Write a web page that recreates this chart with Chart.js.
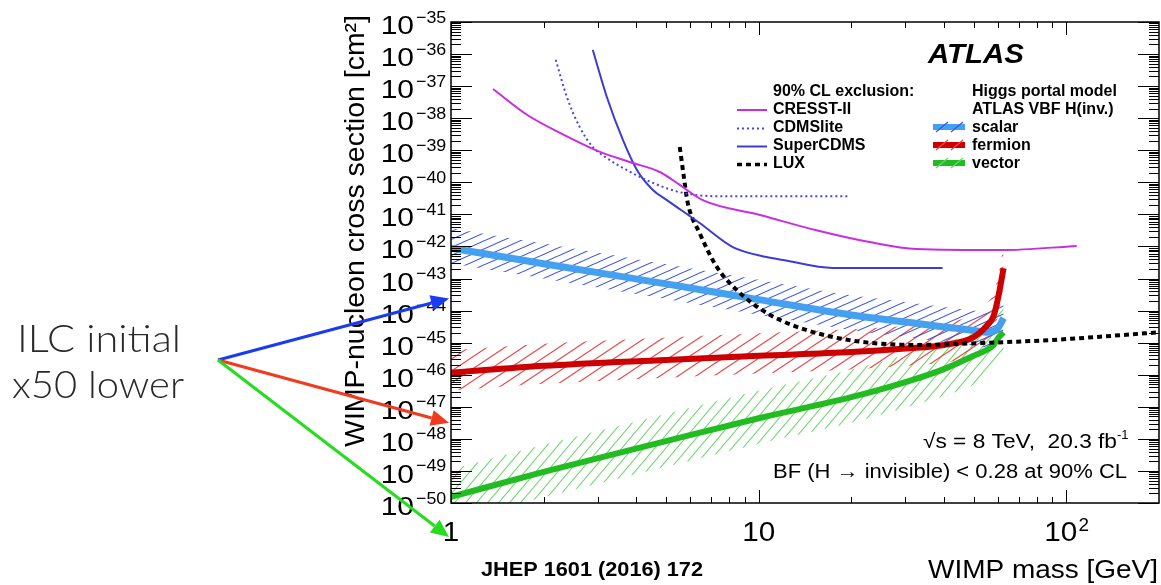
<!DOCTYPE html>
<html>
<head>
<meta charset="utf-8">
<script src="https://cdn.jsdelivr.net/npm/chart.js@4.4.1/dist/chart.umd.min.js"></script>
<style>
  html, body { margin: 0; padding: 0; background: #fff; }
  canvas { display: block; }
</style>
</head>
<body>
<canvas id="wimp" width="1161" height="585"></canvas>
<script>
var cresstMass = [1.37, 1.77, 2.26, 3.05, 3.81, 4.77, 5.54, 6.58, 10.1, 15.4, 22.9, 32.6, 62, 108];
var cresstXsec = [8.1e-38, 1.26e-38, 3.5e-39, 8.9e-40, 4.3e-40, 2.1e-40, 8.3e-41, 2.8e-41, 9.6e-42, 3.2e-42, 1.37e-42, 8.3e-43, 7.7e-43, 1.04e-42];

var cdmsliteMass = [2.19, 2.38, 2.62, 2.89, 3.21, 3.72, 4.53, 5.66, 7.31, 19.7];
var cdmsliteXsec = [6.6e-37, 4.6e-38, 5.3e-39, 1.26e-39, 5.7e-40, 2.44e-40, 9.6e-41, 4.7e-41, 3.7e-41, 3.7e-41];

var supercdmsMass = [2.89, 3.21, 3.62, 4.02, 4.53, 5.03, 6.43, 8.24, 10.6, 12.0, 17.4, 39.6];
var supercdmsXsec = [1.34e-36, 4.6e-38, 2.1e-39, 2.44e-40, 5.8e-41, 2.8e-41, 5.4e-42, 9.6e-43, 4.7e-43, 3.8e-43, 2.14e-43, 2.14e-43];

var luxMass = [5.54, 5.7, 5.88, 6.43, 7.31, 8.48, 10.6, 13.6, 19.7, 32.6, 53.4, 88, 200];
var luxXsec = [1.26e-39, 1.7e-40, 2.3e-41, 2.6e-42, 2.3e-43, 4.4e-44, 8.5e-45, 2.9e-45, 1.2e-45, 8.5e-46, 9.8e-46, 1.2e-45, 2.1e-45];

// Higgs portal limits and their hatched bands
var higgsMass = [1, 2, 5, 10, 20, 30, 40, 50, 55, 58, 60, 62.5];
var scalarLimit = [8.9e-43, 2.9e-43, 6.8e-44, 2.2e-44, 7.3e-45, 4.4e-45, 3.1e-45, 2.4e-45, 2.1e-45, 2.3e-45, 2.9e-45, 5.9e-45];
var scalarHi = [3.7e-42, 1.23e-42, 2.8e-43, 9.1e-44, 3.0e-44, 1.86e-44, 1.29e-44, 1.0e-44, 8.9e-45, 9.5e-45, 1.2e-44, 2.5e-44];
var scalarLo = [3.0e-43, 1.0e-43, 2.3e-44, 7.4e-45, 2.5e-45, 1.5e-45, 1.05e-45, 8.1e-46, 7.2e-46, 7.8e-46, 9.8e-46, 2.0e-45];
var fermionLimit = [1.15e-46, 1.9e-46, 2.9e-46, 3.9e-46, 5.1e-46, 6.6e-46, 8.5e-46, 1.5e-45, 3.3e-45, 6.8e-45, 2.5e-44, 2.1e-43];
var fermionHi = [5.8e-46, 9.3e-46, 1.45e-45, 1.95e-45, 2.6e-45, 3.3e-45, 4.3e-45, 7.6e-45, 1.66e-44, 3.4e-44, 1.23e-43, 1.07e-42];
var fermionLo = [3.2e-47, 5.2e-47, 8.1e-47, 1.1e-46, 1.45e-46, 1.9e-46, 2.4e-46, 4.3e-46, 9.3e-46, 1.9e-45, 6.9e-45, 6.0e-44];
var vectorLimit = [1.55e-50, 9.3e-50, 8.5e-49, 4.4e-48, 2.0e-47, 5.9e-47, 1.5e-46, 3.9e-46, 5.9e-46, 8.5e-46, 1.4e-45, 2.1e-45];
var vectorHi = [1.1e-49, 6.6e-49, 6.0e-48, 3.2e-47, 1.45e-46, 4.2e-46, 1.0e-45, 2.2e-45, 4.2e-45, 6.0e-45, 1.0e-44, 1.5e-44];
var vectorLo = [2.5e-51, 1.5e-50, 1.35e-49, 7.1e-49, 3.2e-48, 9.3e-48, 2.2e-47, 4.9e-47, 9.3e-47, 1.35e-46, 2.2e-46, 3.4e-46];

// where the "x50 lower" arrows point (at m = 1 GeV)
var ilcArrowTargets = [2.4e-44, 3.2e-48, 8.7e-52];

// axis ticks
var xTickValues = [1, 10, 100];
var xTickBase = ['1', '10', '10'];
var xTickExp = ['', '', '2'];
var yDecades = [-35, -36, -37, -38, -39, -40, -41, -42, -43, -44, -45, -46, -47, -48, -49, -50];

var FONT = '"Liberation Sans", Arial, Helvetica, sans-serif';

function pts(xs, ys) {
  return xs.map(function (x, i) { return { x: x, y: ys[i] }; });
}

function hatch(color, w, h) {
  var c = document.createElement('canvas');
  c.width = w; c.height = h;
  var g = c.getContext('2d');
  g.strokeStyle = color;
  g.lineWidth = 1.1;
  g.beginPath();
  for (var k = -1; k <= 1; k++) {
    g.moveTo(k * w - w, 2 * h);
    g.lineTo(k * w + 2 * w, -h);
  }
  g.stroke();
  return g.createPattern(c, 'repeat');
}

function txt(ctx, s, x, y, font, align, sx, color) {
  ctx.save();
  ctx.font = font;
  ctx.fillStyle = color || '#000';
  ctx.textAlign = align || 'left';
  ctx.textBaseline = 'alphabetic';
  ctx.translate(x, y);
  ctx.scale(sx || 1, 1);
  ctx.fillText(s, 0, 0);
  ctx.restore();
}

// text squeezed or stretched to a given width
function fitTxt(ctx, s, x, y, font, width, align, color) {
  ctx.save();
  ctx.font = font;
  var w = ctx.measureText(s).width;
  ctx.restore();
  txt(ctx, s, x, y, font, align, width / w, color);
}

function seg(ctx, x1, y1, x2, y2, color, lw, dash) {
  ctx.save();
  ctx.strokeStyle = color;
  ctx.lineWidth = lw;
  ctx.setLineDash(dash || []);
  ctx.beginPath();
  ctx.moveTo(x1, y1);
  ctx.lineTo(x2, y2);
  ctx.stroke();
  ctx.restore();
}

function arrow(ctx, x1, y1, x2, y2, color) {
  var a = Math.atan2(y2 - y1, x2 - x1);
  var len = 18, hw = 8;
  var bx = x2 - len * Math.cos(a), by = y2 - len * Math.sin(a);
  seg(ctx, x1, y1, bx, by, color, 3);
  ctx.save();
  ctx.fillStyle = color;
  ctx.beginPath();
  ctx.moveTo(x2, y2);
  ctx.lineTo(bx + hw * Math.sin(a), by - hw * Math.cos(a));
  ctx.lineTo(bx - hw * Math.sin(a), by + hw * Math.cos(a));
  ctx.closePath();
  ctx.fill();
  ctx.restore();
}

var canvas = document.getElementById('wimp');
var ctx0 = canvas.getContext('2d');
var blueHatch = hatch('#3a55e0', 18, 8);
var redHatch = hatch('#e84848', 18, 12);
var greenHatch = hatch('#6ad86a', 11, 13);

var rootFrame = {
  id: 'rootFrame',
  beforeDraw: function (chart) {
    var ctx = chart.ctx;
    ctx.save();
    ctx.fillStyle = '#fff';
    ctx.fillRect(0, 0, chart.width, chart.height);
    ctx.restore();
  },
  afterDatasetsDraw: function (chart) {
    var ctx = chart.ctx, a = chart.chartArea;
    var xs = chart.scales.x, ys = chart.scales.y;
    ctx.save();
    ctx.strokeStyle = '#000';
    ctx.lineWidth = 1.5;
    ctx.strokeRect(a.left, a.top, a.right - a.left, a.bottom - a.top);
    ctx.lineWidth = 1;
    ctx.beginPath();
    // y ticks, left and right, pointing inwards
    yDecades.forEach(function (e) {
      for (var k = 1; k <= 9; k++) {
        var v = k * Math.pow(10, e);
        if (v > ys.max * 1.0001) continue;
        var py = Math.round(ys.getPixelForValue(v)) + 0.5;
        var L = k === 1 ? 21 : 10;
        ctx.moveTo(a.left, py); ctx.lineTo(a.left + L, py);
        ctx.moveTo(a.right, py); ctx.lineTo(a.right - L, py);
      }
    });
    // x ticks, bottom and top
    [1, 10, 100].forEach(function (d) {
      for (var k = 1; k <= 9; k++) {
        var v = k * d;
        if (v >= xs.max) continue;
        var px = Math.round(xs.getPixelForValue(v)) + 0.5;
        var L = k === 1 ? 13 : 6;
        ctx.moveTo(px, a.bottom); ctx.lineTo(px, a.bottom - L);
        ctx.moveTo(px, a.top); ctx.lineTo(px, a.top + L);
      }
    });
    ctx.stroke();
    ctx.restore();
  },
  afterDraw: function (chart) {
    var ctx = chart.ctx, a = chart.chartArea;
    var xs = chart.scales.x, ys = chart.scales.y;

    // y tick labels 10^-n
    yDecades.forEach(function (e) {
      var py = ys.getPixelForValue(Math.pow(10, e));
      txt(ctx, '10', 414, py + 12, '25px ' + FONT, 'right', 1.2);
      txt(ctx, '\u2212' + Math.abs(e), 416, py + 0.5, '17px ' + FONT, 'left', 1.05);
    });

    // x tick labels
    xTickValues.forEach(function (v, i) {
      var px = xs.getPixelForValue(v);
      ctx.save();
      ctx.font = '27px ' + FONT;
      var wb = ctx.measureText(xTickBase[i]).width * 1.1;
      ctx.font = '18px ' + FONT;
      var we = xTickExp[i] ? ctx.measureText(xTickExp[i]).width + 1 : 0;
      ctx.restore();
      var x0 = px - (wb + we) / 2;
      txt(ctx, xTickBase[i], x0, 541, '27px ' + FONT, 'left', 1.1);
      if (xTickExp[i]) txt(ctx, xTickExp[i], x0 + wb + 1, 531, '18px ' + FONT, 'left', 1.05);
    });

    // axis titles
    fitTxt(ctx, 'WIMP mass [GeV]', 1158, 578, '25px ' + FONT, 230, 'right');
    ctx.save();
    ctx.translate(364, 231);
    ctx.rotate(-Math.PI / 2);
    fitTxt(ctx, 'WIMP-nucleon cross section [cm\u00b2]', 0, 0, '27px ' + FONT, 432, 'center');
    ctx.restore();
    fitTxt(ctx, 'JHEP 1601 (2016) 172', 481, 576, 'bold 20px ' + FONT, 222, 'left');

    // ATLAS label and legend
    fitTxt(ctx, 'ATLAS', 928, 63, 'italic bold 27px ' + FONT, 96, 'left');
    var lf = 'bold 16px ' + FONT;
    txt(ctx, '90% CL exclusion:', 773, 96, lf);
    txt(ctx, 'CRESST-II', 773, 114, lf);
    txt(ctx, 'CDMSlite', 773, 132, lf);
    txt(ctx, 'SuperCDMS', 773, 150, lf);
    txt(ctx, 'LUX', 773, 168, lf);
    seg(ctx, 737, 110, 767, 110, '#c82ee0', 2);
    seg(ctx, 737, 128.5, 767, 128.5, '#4646e0', 2, [2, 3]);
    seg(ctx, 737, 146.5, 767, 146.5, '#3c3cd2', 2);
    seg(ctx, 737, 164.5, 767, 164.5, '#000', 3.5, [5, 4]);

    txt(ctx, 'Higgs portal model', 972, 96, lf);
    txt(ctx, 'ATLAS VBF H(inv.)', 972, 114, lf);
    txt(ctx, 'scalar', 972, 132, lf);
    txt(ctx, 'fermion', 972, 150, lf);
    txt(ctx, 'vector', 972, 168, lf);
    var sym = [[127, '#46a0f0', '#3a55e0'], [145, '#cc0000', '#e84848'], [163, '#22bb22', '#6ad86a']];
    sym.forEach(function (s) {
      seg(ctx, 933, s[0], 965, s[0], s[1], 6);
      seg(ctx, 936, s[0] + 5, 948, s[0] - 5, s[2], 1.2);
      seg(ctx, 951, s[0] + 5, 963, s[0] - 5, s[2], 1.2);
    });

    // energy / lumi text
    fitTxt(ctx, '\u221As = 8 TeV,  20.3 fb', 1117, 448, '20px ' + FONT, 194, 'right');
    txt(ctx, '-1', 1117, 439, '13px ' + FONT, 'left');
    fitTxt(ctx, 'BF (H \u2192 invisible) < 0.28 at 90% CL', 1127, 478, '20px ' + FONT, 354, 'right');

    // slide annotation on the left
    var lightFont = '300 38px Lato, "Open Sans", ' + FONT;
    fitTxt(ctx, 'ILC initial', 99, 352, lightFont, 164, 'center', '#2a2a2a');
    fitTxt(ctx, 'x50 lower', 98, 398, lightFont, 172, 'center', '#2a2a2a');
    var arrowColors = ['#1a3cf0', '#f03c1e', '#26dc1e'];
    ilcArrowTargets.forEach(function (v, i) {
      arrow(ctx, 218, 360, xs.getPixelForValue(1) - 2, ys.getPixelForValue(v), arrowColors[i]);
    });
  }
};

function band(hi, lo, pattern) {
  return [
    { data: pts(higgsMass, hi), borderWidth: 0, pointRadius: 0, fill: '+1', backgroundColor: pattern, order: 10, cubicInterpolationMode: 'monotone' },
    { data: pts(higgsMass, lo), borderWidth: 0, pointRadius: 0, fill: false, order: 10, cubicInterpolationMode: 'monotone' }
  ];
}

function curve(xs, ys, color, width, dash, order) {
  return {
    data: pts(xs, ys), borderColor: color, borderWidth: width, borderDash: dash || [],
    pointRadius: 0, fill: false, order: order, cubicInterpolationMode: 'monotone',
    borderCapStyle: 'butt'
  };
}

var datasets = []
  .concat(band(scalarHi, scalarLo, blueHatch))
  .concat(band(fermionHi, fermionLo, redHatch))
  .concat(band(vectorHi, vectorLo, greenHatch))
  .concat([
    curve(higgsMass, scalarLimit, '#46a0f0', 7, null, 5),
    curve(higgsMass, fermionLimit, '#cc0000', 6, null, 4),
    curve(higgsMass, vectorLimit, '#22bb22', 6, null, 4),
    curve(cresstMass, cresstXsec, '#c82ee0', 2, null, 1),
    curve(cdmsliteMass, cdmsliteXsec, '#4646e0', 2, [2, 3], 1),
    curve(supercdmsMass, supercdmsXsec, '#3c3cd2', 2, null, 1),
    curve(luxMass, luxXsec, '#000', 4, [5, 4], 1)
  ]);

var chart = new Chart(canvas, {
  type: 'line',
  data: { datasets: datasets },
  options: {
    responsive: false,
    animation: false,
    devicePixelRatio: 1,
    layout: { padding: { left: 451, top: 22, right: 2, bottom: 82 } },
    plugins: { legend: { display: false }, tooltip: { enabled: false } },
    scales: {
      x: {
        type: 'logarithmic', min: 1, max: 200,
        ticks: { display: false },
        grid: { display: false, drawTicks: false },
        border: { display: false },
        title: { display: false }
      },
      y: {
        type: 'logarithmic', min: 1e-50, max: 1e-35,
        ticks: { display: false },
        grid: { display: false, drawTicks: false },
        border: { display: false },
        title: { display: false }
      }
    }
  },
  plugins: [rootFrame]
});
</script>
</body>
</html>
